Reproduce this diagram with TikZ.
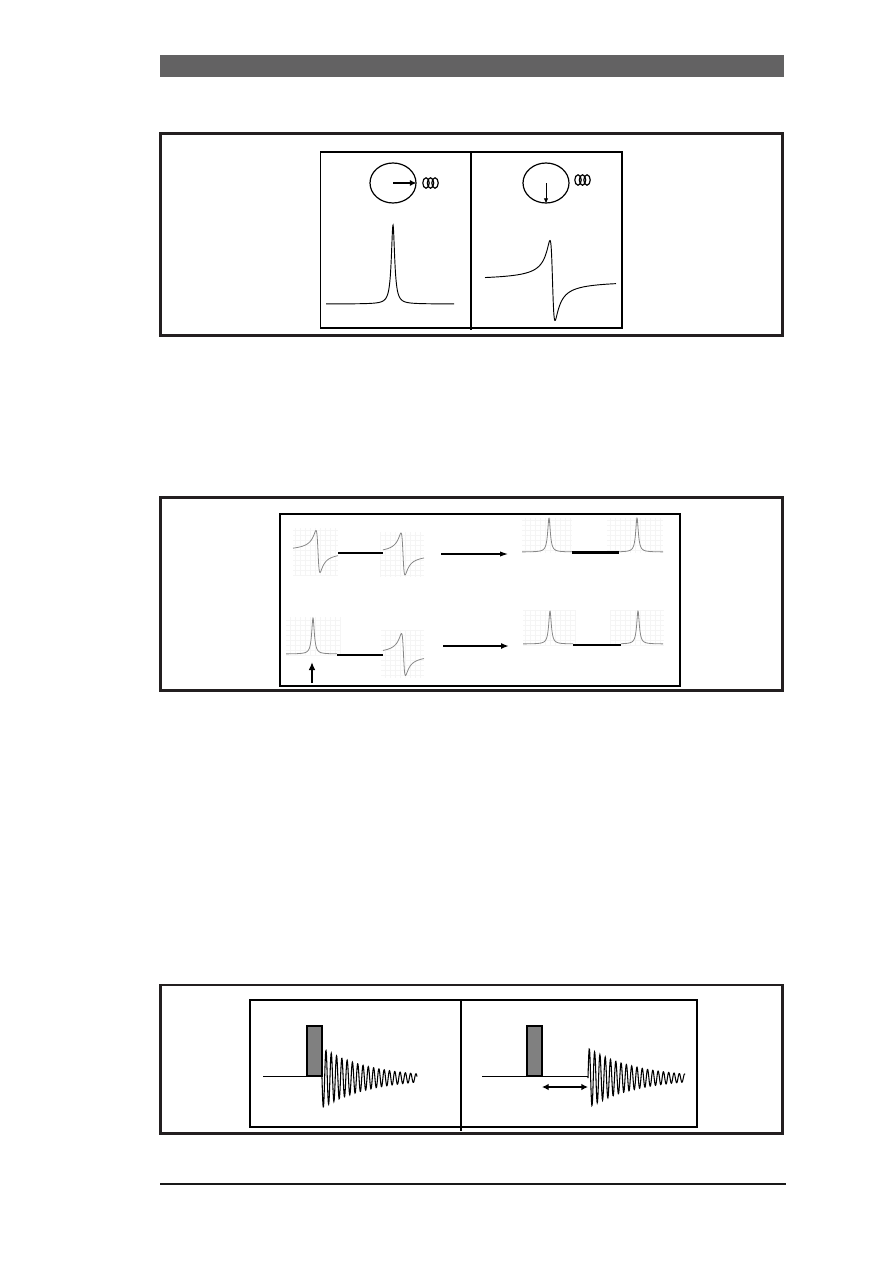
\documentclass[tikz,border=0pt]{standalone}
\usetikzlibrary{arrows.meta,shapes.geometric}
\definecolor{barGray}{RGB}{99,98,99}
\definecolor{frameBlack}{RGB}{35,31,32}
\definecolor{pulseGray}{RGB}{128,128,128}
\definecolor{traceGray}{RGB}{135,135,135}
\begin{document}
\begin{tikzpicture}[x=0.75pt,y=-0.75pt,
  frame/.style={draw=frameBlack,line width=2.2pt},
  panel/.style={draw=black,line width=1.3pt},
  trace/.style={line width=0.7pt},
  gtrace/.style={draw=traceGray,line width=0.6pt},
  bond/.style={line width=1.8pt},
  spin/.style={ellipse,draw,line width=0.9pt,minimum width=34.5pt,minimum height=30pt,inner sep=0pt},
  pulse/.style={draw,fill=pulseGray,line width=1.2pt},
  faint/.style={draw=black!4,line width=0.3pt}]
\useasboundingbox (0,0) rectangle (893,1263);
% header bar and footer rule
\fill[barGray] (160,55) rectangle (784,77);
\draw[line width=0.9pt,black!90] (160,1184) -- (786,1184);
\foreach \ya/\yb in {133.5/335.7,497.5/690.5,985/1133.5}
  \draw[frame] (160.5,\ya) rectangle (782.5,\yb);

% box 1: in phase / out of phase
\draw[panel] (320.5,152.3) rectangle (622,327.7);
\draw[line width=1pt] (471,152.3) -- (471,330);
\node[spin] (m1) at (393,183) {};
\node[spin] (m2) at (546,183) {};
\draw[line width=1.4pt,-{Latex[length=5pt,width=4.5pt]}] (m1.center) -- (m1.east);
\draw[line width=0.7pt,-{Latex[length=4pt,width=3.5pt]}] (m2.center) -- (m2.south);
\foreach \cx/\cy in {426/183,578/180}
  \foreach \dx in {0,4.5,9}
    \draw[line width=0.9pt] (\cx+\dx,\cy) ellipse [x radius=2.4pt,y radius=3.9pt];
\draw[trace] plot[domain=326:454,samples=501] (\x,{304-79/(1+((\x-393)/2)^2)});
\draw[trace] plot[domain=485:616,samples=501] (\x,{280.5+200*((\x-552.5)/((\x-552.5)^2+6.25))});

% box 2: phasing two lines
\draw[panel] (280,514.3) rectangle (680,686);
\foreach \xa/\ya/\xb/\yb in {293/528/338/575,380/532/424/577,522/518/572/553,607/518/663/553,
    286/617/340/655,381/630/424/678,523/610/576/645,610/610/664/645}
  \draw[faint,step=3.75pt] (\xa,\ya) grid (\xb,\yb);
\foreach \lo/\hi/\xo/\yc in {293/338/318/551.5,383/424/403/554,383/424/403.5/654.5}
  \draw[gtrace] plot[domain=\lo:\hi,samples=241] (\x,{\yc+84*((\x-\xo)/((\x-\xo)^2+4))});
\foreach \lo/\hi/\xo/\yc/\amp in {522/572/549/552/34,619/663/637/552/34,286/337/313/654/36,
    523/573/550/644/33,621/663/638/644/33}
  \draw[gtrace] plot[domain=\lo:\hi,samples=241] (\x,{\yc-\amp/(1+((\x-\xo)/1.6)^2)});
\coordinate (t1) at (338,553);
\coordinate (t2) at (383,553);
\coordinate (t3) at (572,552.5);
\coordinate (t4) at (619,552.5);
\coordinate (b1) at (337,655);
\coordinate (b2) at (383,655);
\coordinate (b3) at (573,645);
\coordinate (b4) at (621,645);
\foreach \u/\v in {t1/t2,t3/t4,b1/b2,b3/b4} \draw[bond] (\u)--(\v);
\coordinate (ta) at (441,554);
\coordinate (tb) at (508,554);
\coordinate (ba) at (443,646);
\coordinate (bb) at (509,646);
\coordinate (ua) at (312,683);
\coordinate (ub) at (312,662);
\draw[line width=0.8pt,-{Latex[length=6pt,width=4pt]}] (ta) -- (tb);
\draw[line width=1.6pt,-{Latex[length=6pt,width=4.5pt]}] (ba) -- (bb);
\draw[line width=1.5pt,-{Latex[length=6pt,width=5pt]}] (ua) -- (ub);

% box 3: pulse and FID, with delay
\draw[panel] (250,1000) rectangle (696.7,1126.7);
\draw[line width=0.9pt] (461,1000) -- (461,1131);
\draw[trace] (263,1076) -- (306.7,1076);
\draw[trace] (482,1076) -- (527,1076);
\draw[trace] (542,1076) -- (588,1076);
\draw[pulse] (306.7,1026) rectangle (321.7,1076);
\draw[pulse] (527,1026) rectangle (542,1076);
\draw[line width=0.8pt] (321.7,1076) -- plot[domain=0:95,samples=401] ({322+\x},{1078+30*exp(-\x/48)*sin(68*\x)});
\draw[line width=0.8pt] (588,1076) -- plot[domain=0:97,samples=401] ({588+\x},{1078-30*exp(-\x/48)*sin(68*\x)});
\coordinate (da) at (542,1087);
\coordinate (db) at (588,1087);
\draw[line width=1.2pt,{Latex[length=5pt,width=5pt]}-{Latex[length=5pt,width=5pt]}] (da) -- (db);
\end{tikzpicture}
\end{document}
